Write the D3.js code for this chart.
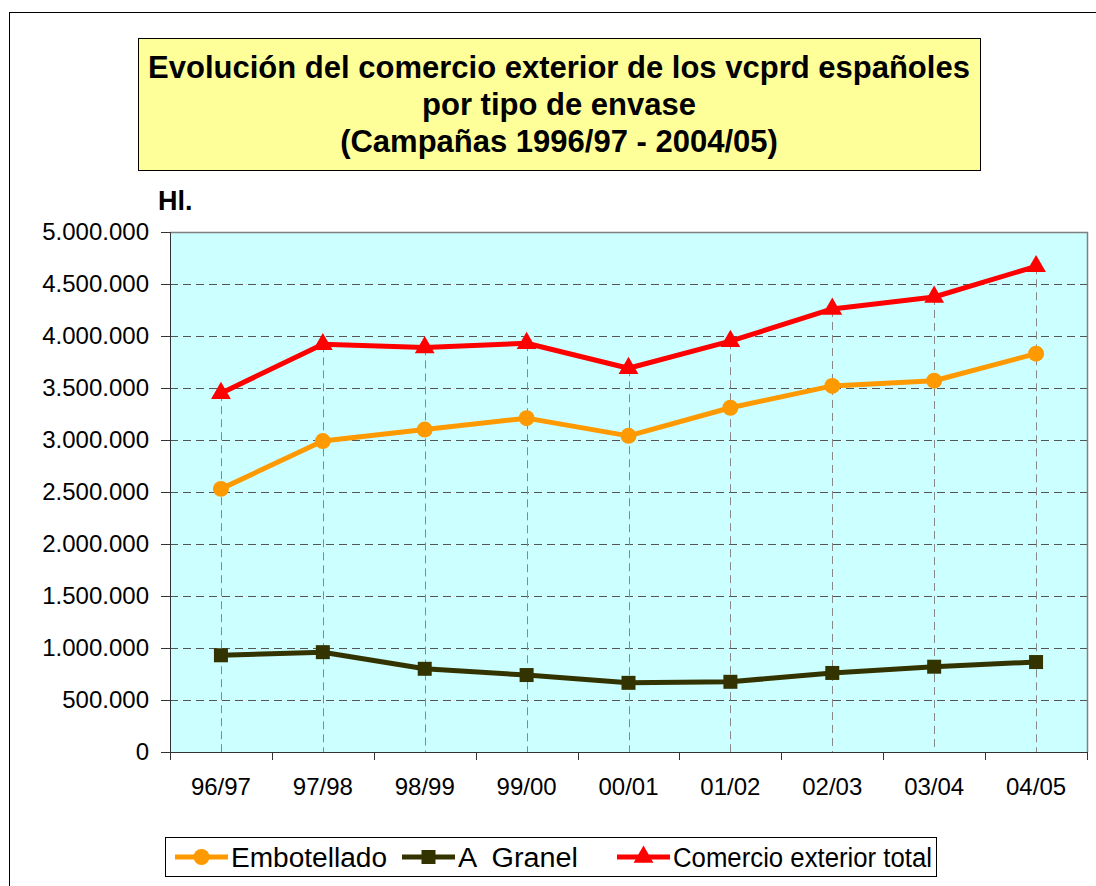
<!DOCTYPE html>
<html>
<head>
<meta charset="utf-8">
<script src="https://cdn.jsdelivr.net/npm/d3@7"></script>
<style>
  body { margin: 0; background: #fff; }
  svg text { font-family: "Liberation Sans", Arial, sans-serif; fill: #000; white-space: pre; }
</style>
</head>
<body>
<svg id="chart"></svg>
<script>
let campaigns = ['96/97', '97/98', '98/99', '99/00', '00/01', '01/02', '02/03', '03/04', '04/05']
let embotellado = [2530000, 2990000, 3100000, 3210000, 3040000, 3310000, 3520000, 3570000, 3830000]
let granel = [930000, 960000, 800000, 740000, 665000, 675000, 760000, 820000, 865000]
let total = [3450000, 3920000, 3890000, 3930000, 3690000, 3950000, 4260000, 4375000, 4670000]
let yTicks = [0, 500000, 1000000, 1500000, 2000000, 2500000, 3000000, 3500000, 4000000, 4500000, 5000000]
let titleLines = ['Evolución del comercio exterior de los vcprd españoles', 'por tipo de envase', '(Campañas 1996/97 - 2004/05)']

let width = 1096
let height = 886
let plot = { left: 170, right: 1087, top: 232, bottom: 752 }

let svg = d3.select('#chart').attr('width', width).attr('height', height)

// outer frame
svg.append('rect')
    .attr('x', 9.5).attr('y', 12.5)
    .attr('width', 1100).attr('height', 900)
    .attr('fill', 'none').attr('stroke', '#000').attr('stroke-width', 1)

// title box
svg.append('rect')
    .attr('x', 138.5).attr('y', 38.5)
    .attr('width', 842).attr('height', 132)
    .attr('fill', '#FFFF99').attr('stroke', '#000').attr('stroke-width', 1)

svg.selectAll('.title')
    .data(titleLines)
    .enter()
    .append('text')
    .attr('class', 'title')
    .attr('x', 559)
    .attr('y', (d, i) => 78 + i * 37)
    .attr('text-anchor', 'middle')
    .style('font-size', '31px')
    .style('font-weight', 'bold')
    .text(d => d)

svg.append('text')
    .attr('x', 158).attr('y', 210)
    .style('font-size', '27px').style('font-weight', 'bold')
    .text('Hl.')

let xScale = d3.scaleBand()
    .domain(campaigns)
    .range([plot.left, plot.right])

let yScale = d3.scaleLinear()
    .domain([0, 5000000])
    .range([plot.bottom, plot.top])

// plot background
svg.append('rect')
    .attr('x', plot.left).attr('y', plot.top)
    .attr('width', plot.right - plot.left).attr('height', plot.bottom - plot.top)
    .attr('fill', '#CCFFFF')

// horizontal grid
svg.selectAll('.hgrid')
    .data(yTicks.filter(d => d > 0 && d < 5000000))
    .enter()
    .append('line')
    .attr('x1', plot.left).attr('x2', plot.right)
    .attr('y1', d => Math.round(yScale(d)) + 0.5)
    .attr('y2', d => Math.round(yScale(d)) + 0.5)
    .attr('stroke', '#555').attr('stroke-dasharray', '8,5')

// drop lines
let maxVals = campaigns.map((c, i) => Math.max(embotellado[i], granel[i], total[i]))
svg.selectAll('.drop')
    .data(campaigns)
    .enter()
    .append('line')
    .attr('x1', d => Math.round(xScale(d) + xScale.bandwidth() / 2) + 0.5)
    .attr('x2', d => Math.round(xScale(d) + xScale.bandwidth() / 2) + 0.5)
    .attr('y1', (d, i) => yScale(maxVals[i]))
    .attr('y2', plot.bottom)
    .attr('stroke', '#888').attr('stroke-dasharray', '8,5')

// plot top and right border
svg.append('path')
    .attr('d', `M${plot.left},${plot.top + 0.5}H${plot.right + 0.5}V${plot.bottom}`)
    .attr('fill', 'none').attr('stroke', '#808080').attr('stroke-width', 1.5)

// axes
let yAxis = d3.axisLeft(yScale)
    .tickValues(yTicks)
    .tickSize(9)
    .tickPadding(12)
    .tickFormat(d => d3.format(',')(d).replace(/,/g, '.'))

let yG = svg.append('g')
    .attr('transform', `translate(${plot.left},0)`)
    .call(yAxis)
yG.selectAll('text').style('font-size', '24px')
yG.selectAll('line, path').attr('stroke', '#333')

let xAxis = d3.axisBottom(xScale).tickSize(0).tickPadding(26)
let xG = svg.append('g')
    .attr('transform', `translate(0,${plot.bottom})`)
    .call(xAxis)
xG.selectAll('text').style('font-size', '24px')
xG.select('.domain').attr('stroke', '#333')

// ticks at band boundaries
let bounds = campaigns.map(c => xScale(c)).concat([plot.right])
svg.selectAll('.xtick')
    .data(bounds)
    .enter()
    .append('line')
    .attr('x1', d => Math.round(d) + 0.5).attr('x2', d => Math.round(d) + 0.5)
    .attr('y1', plot.bottom).attr('y2', plot.bottom + 8)
    .attr('stroke', '#333')

let cx = d => xScale(d) + xScale.bandwidth() / 2

let series = [
    { name: 'Embotellado', values: embotellado, color: '#FF9900', marker: 'circle' },
    { name: 'A  Granel', values: granel, color: '#333300', marker: 'square' },
    { name: 'Comercio exterior total', values: total, color: '#FF0000', marker: 'triangle' }
]

let symbolFor = m => {
    if (m === 'circle') return d3.symbol(d3.symbolCircle, 200)
    if (m === 'square') return d3.symbol(d3.symbolSquare, 196)
    return d3.symbol(d3.symbolTriangle, 170)
}

let line = d3.line()
    .x((d, i) => cx(campaigns[i]))
    .y(d => yScale(d))

series.forEach(s => {
    svg.append('path')
        .datum(s.values)
        .attr('d', line)
        .attr('fill', 'none')
        .attr('stroke', s.color)
        .attr('stroke-width', 5)
        .attr('stroke-linejoin', 'round')

    svg.selectAll('.m-' + s.marker)
        .data(s.values)
        .enter()
        .append('path')
        .attr('d', symbolFor(s.marker))
        .attr('transform', (d, i) => `translate(${cx(campaigns[i])},${yScale(d)})`)
        .attr('fill', s.color)
})

// legend
svg.append('rect')
    .attr('x', 165.5).attr('y', 837.5)
    .attr('width', 771).attr('height', 39)
    .attr('fill', '#fff').attr('stroke', '#000')

let legendX = [175, 402, 617]
let legendTextW = [156, 120, 259]
series.forEach((s, i) => {
    let g = svg.append('g').attr('transform', `translate(${legendX[i]},857)`)
    g.append('line')
        .attr('x1', 0).attr('x2', 53)
        .attr('stroke', s.color).attr('stroke-width', 5)
    g.append('path')
        .attr('d', symbolFor(s.marker))
        .attr('transform', 'translate(26.5,0)')
        .attr('fill', s.color)
    g.append('text')
        .attr('x', 56).attr('y', 10)
        .attr('textLength', legendTextW[i])
        .attr('lengthAdjust', 'spacingAndGlyphs')
        .style('font-size', '27px')
        .text(s.name)
})
</script>
</body>
</html>
